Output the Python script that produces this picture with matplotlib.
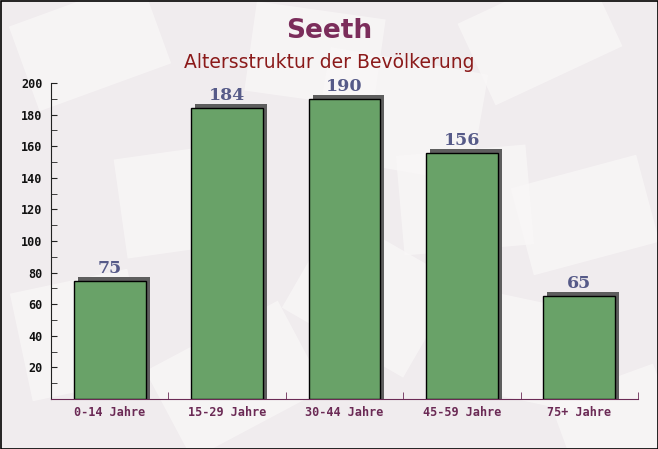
import matplotlib
matplotlib.use("Agg")
import matplotlib.pyplot as plt
from matplotlib.patches import Rectangle
import matplotlib.transforms as mtransforms

categories = ["0-14 Jahre", "15-29 Jahre", "30-44 Jahre", "45-59 Jahre", "75+ Jahre"]
values = [75, 184, 190, 156, 65]
ytick_vals = [20, 40, 60, 80, 100, 120, 140, 160, 180, 200]
title = "Seeth"
subtitle = "Altersstruktur der Bevölkerung"

fig = plt.figure(figsize=(6.58, 4.49), dpi=100)
fig.patch.set_facecolor("#f0ecee")

# decorative faint envelope shapes in background
bg = fig.add_axes([0, 0, 1, 1], zorder=-10)
bg.set_xlim(0, 658); bg.set_ylim(449, 0); bg.axis("off")
for (x, y, w, h, a) in [(20, 0, 140, 90, -20), (250, 10, 130, 90, 8), (470, -10, 140, 90, -25),
                        (320, 60, 160, 110, 10), (120, 150, 130, 100, -8), (520, 170, 130, 90, -15),
                        (300, 240, 140, 110, 30), (20, 280, 120, 110, -12), (160, 330, 150, 100, -28),
                        (450, 300, 150, 100, 12), (560, 380, 110, 80, -20), (400, 150, 130, 100, -5)]:
    r = Rectangle((x, y), w, h, facecolor="#f9f7f7", edgecolor="none", alpha=0.75)
    t = mtransforms.Affine2D().rotate_deg_around(x + w / 2, y + h / 2, a) + bg.transData
    r.set_transform(t)
    bg.add_patch(r)
# frame
bg.add_patch(Rectangle((0.5, 0.5), 657, 448, fill=False, edgecolor="black", linewidth=1.2))

ax = fig.add_axes([51 / 658, 50 / 449, 587 / 658, 316 / 449])
ax.set_facecolor("none")
x = list(range(len(categories)))
width = 0.61

# shadows (extrusion to upper right)
off = mtransforms.ScaledTranslation(4 / 100, 4 / 100, fig.dpi_scale_trans)
for xi, v in zip(x, values):
    sh = Rectangle((xi - width / 2, -20), width, v + 20, facecolor="#5e5e5e", edgecolor="none",
                   transform=ax.transData + off, zorder=2)
    ax.add_patch(sh)
    sh.set_clip_path(ax.patch)

bars = ax.bar(x, values, width=width, color="#69a268", edgecolor="black", linewidth=1.0, zorder=3)

for xi, v in zip(x, values):
    ax.text(xi, v + 2.5, str(v), ha="center", va="bottom", fontsize=12.5, fontweight="bold",
            family="DejaVu Serif", color="#565a88", zorder=4)

ax.set_xlim(-0.5, len(categories) - 0.5)
ax.set_ylim(0, 200)
ax.set_yticks(ytick_vals)
ax.set_yticklabels([str(v) for v in ytick_vals], family="DejaVu Sans Mono", fontweight="bold",
                   fontsize=8.5, color="#111111")
ax.set_yticks([v - 10 for v in ytick_vals], minor=True)
ax.tick_params(axis="y", which="both", direction="in", length=4, color="#222222", pad=6)
ax.set_xticks(x)
ax.set_xticklabels(categories, family="DejaVu Sans Mono", fontweight="bold", fontsize=8.5,
                   color="#6b2a55")
ax.tick_params(axis="x", which="major", length=0, pad=5)
ax.set_xticks([i + 0.5 for i in range(-1, len(categories))], minor=True)
ax.tick_params(axis="x", which="minor", direction="in", length=5, color="#6b2a55")
for s in ["top", "right"]:
    ax.spines[s].set_visible(False)
ax.spines["left"].set_color("#222222")
ax.spines["bottom"].set_color("#6b2a55")
ax.spines["bottom"].set_zorder(5)

fig.text(0.5, 1 - 31 / 449, title, ha="center", va="center", fontsize=19, fontweight="bold",
         color="#7b2d5b")
fig.text(0.5, 1 - 62 / 449, subtitle, ha="center", va="center", fontsize=13.5, color="#8b1a1a")

fig.savefig("out.png", dpi=100, facecolor=fig.get_facecolor())
